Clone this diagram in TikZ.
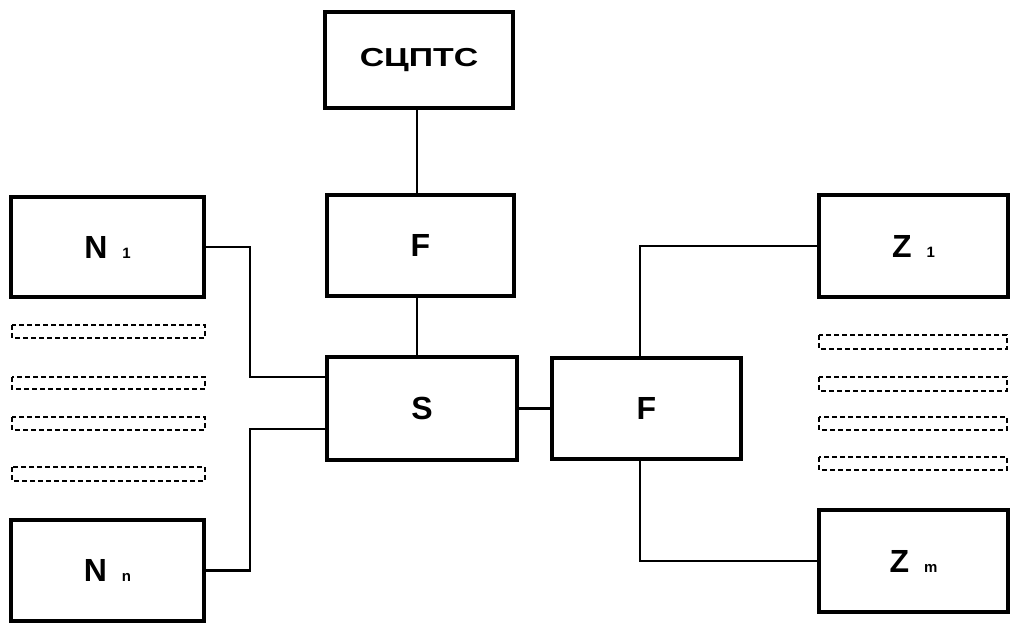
\documentclass[tikz,border=0pt]{standalone}
\usepackage{fontspec}
\setmainfont{Liberation Sans}
\newcommand{\lbl}[2]{{\fontsize{32}{32}\selectfont\bfseries #1}\hspace{15pt}{\fontsize{15}{15}\selectfont\bfseries #2}}
\begin{document}
\begin{tikzpicture}[x=1pt,y=-1pt,
  blk/.style={draw, line width=3.2pt, rectangle, inner sep=0pt, font=\fontsize{32}{32}\selectfont\bfseries},
  wire/.style={line width=2.2pt},
  bar/.style={draw, line width=2.2pt, dash pattern=on 5pt off 3pt}]
\useasboundingbox (0,0) rectangle (1011,623);
\node[blk, minimum width=188pt, minimum height=96pt] (top) at (419,60)
  {\fontsize{26}{26}\selectfont\bfseries\scalebox{1.3}[1]{СЦПТС}};
\node[blk, minimum width=187pt, minimum height=101pt] (F1) at (420.5,245.5) {F};
\node[blk, minimum width=193pt, minimum height=100pt] (N1) at (107.5,247) {\lbl{N}{1}};
\node[blk, minimum width=193pt, minimum height=101pt] (Nn) at (107.5,570.5) {\lbl{N}{n}};
\node[blk, minimum width=190pt, minimum height=103pt] (S) at (422,408.5) {S};
\node[blk, minimum width=189pt, minimum height=101pt] (F2) at (646.5,408.5) {F};
\node[blk, minimum width=189pt, minimum height=102pt] (Z1) at (913.5,246) {\lbl{Z}{1}};
\node[blk, minimum width=189pt, minimum height=102pt] (Zm) at (913.5,561) {\lbl{Z}{m}};
\draw[wire] ([xshift=-2pt]top.south) -- ([xshift=-3.5pt]F1.north);
\draw[wire] ([xshift=-3.5pt]F1.south) -- ([xshift=-5pt]S.north);
\draw[wire] (N1.east) -- ++(44,0) |- ([yshift=31.5pt]S.west);
\draw[wire] (Nn.east) -- ++(44,0) |- ([yshift=-20.5pt]S.west);
\draw[wire] (S.east) -- (F2.west);
\draw[wire] ([xshift=-6.5pt]F2.north) |- (Z1.west);
\draw[wire] ([xshift=-6.5pt]F2.south) |- (Zm.west);
\draw[bar] (12,325) rectangle (205,338);
\draw[bar] (12,377) rectangle (205,389);
\draw[bar] (12,417) rectangle (205,430);
\draw[bar] (12,467) rectangle (205,481);
\draw[bar] (819,335) rectangle (1007,349);
\draw[bar] (819,377) rectangle (1007,391);
\draw[bar] (819,417) rectangle (1007,430);
\draw[bar] (819,457) rectangle (1007,470);
\end{tikzpicture}
\end{document}
